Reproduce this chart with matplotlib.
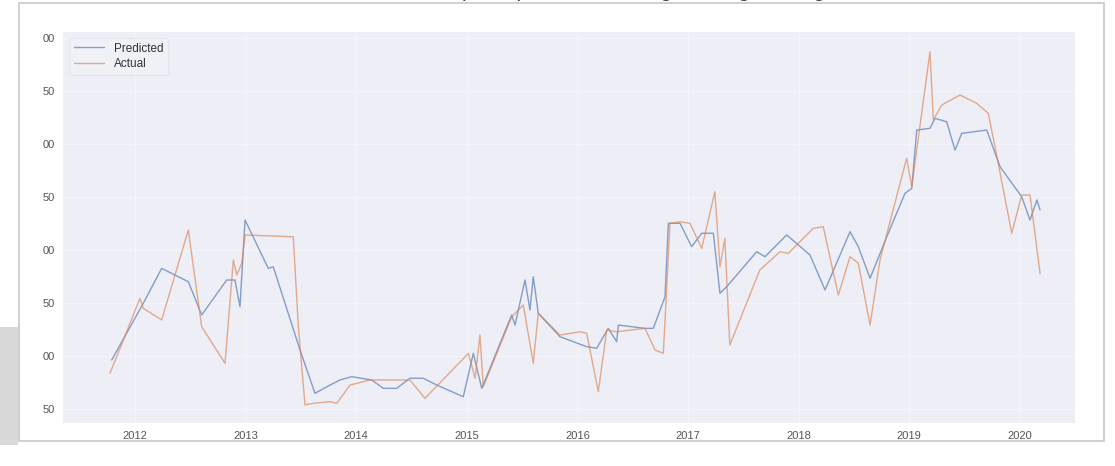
import numpy as np
import matplotlib.pyplot as plt
from matplotlib.patches import Rectangle

plt.style.use('seaborn-v0_8-darkgrid')
plt.rcParams['font.family'] = ['Liberation Sans', 'DejaVu Sans']

# predicted series (decimal year, value)
pred_t = [2011.789, 2012.075, 2012.241, 2012.482, 2012.603, 2012.829, 2012.904, 2012.949,
          2012.995, 2013.205, 2013.250, 2013.492, 2013.627, 2013.763, 2013.854, 2013.959,
          2014.140, 2014.245, 2014.366, 2014.486, 2014.606, 2014.728, 2014.968, 2015.059,
          2015.135, 2015.406, 2015.436, 2015.526, 2015.571, 2015.601, 2015.646, 2015.843,
          2016.084, 2016.174, 2016.279, 2016.355, 2016.370, 2016.611, 2016.686, 2016.792,
          2016.822, 2016.928, 2017.033, 2017.124, 2017.229, 2017.289, 2017.350, 2017.621,
          2017.696, 2017.892, 2018.103, 2018.239, 2018.465, 2018.540, 2018.646, 2018.797,
          2018.962, 2019.023, 2019.068, 2019.188, 2019.233, 2019.339, 2019.414, 2019.475,
          2019.701, 2019.821, 2020.017, 2020.092, 2020.155, 2020.183]
pred_v = [196.2, 249.7, 282.7, 270.1, 238.7, 271.7, 271.7, 246.5,
          328.3, 282.7, 284.2, 205.7, 164.8, 172.6, 177.4, 180.5,
          177.4, 169.5, 169.5, 179.0, 179.0, 172.6, 161.6, 202.5,
          169.5, 238.7, 229.2, 271.7, 243.4, 274.8, 240.3, 218.2,
          208.8, 207.3, 226.1, 213.5, 229.2, 226.1, 226.1, 255.9,
          325.2, 325.2, 303.1, 315.8, 315.8, 259.2, 265.4, 298.4,
          293.7, 314.2, 295.3, 262.3, 317.3, 303.1, 273.3, 312.5,
          353.5, 358.2, 413.2, 414.8, 424.2, 421.0, 394.3, 410.1,
          413.2, 378.6, 350.3, 328.3, 347.2, 337.7]

# actual series
act_t = [2011.774, 2012.045, 2012.075, 2012.241, 2012.482, 2012.603, 2012.814, 2012.889,
         2012.920, 2012.965, 2012.995, 2013.431, 2013.477, 2013.537, 2013.612, 2013.763,
         2013.824, 2013.944, 2014.125, 2014.486, 2014.622, 2015.014, 2015.075, 2015.119,
         2015.149, 2015.406, 2015.511, 2015.601, 2015.646, 2015.843, 2016.024, 2016.084,
         2016.189, 2016.265, 2016.355, 2016.611, 2016.702, 2016.777, 2016.837, 2016.928,
         2017.018, 2017.124, 2017.243, 2017.289, 2017.333, 2017.378, 2017.649, 2017.832,
         2017.907, 2018.133, 2018.223, 2018.359, 2018.465, 2018.540, 2018.646, 2018.736,
         2018.977, 2019.023, 2019.188, 2019.218, 2019.294, 2019.459, 2019.610, 2019.715,
         2019.805, 2019.927, 2020.017, 2020.092, 2020.183]
act_v = [183.7, 254.4, 245.0, 234.0, 318.9, 227.6, 193.1, 290.6,
         276.4, 287.5, 314.2, 312.5, 227.6, 153.8, 155.4, 156.9,
         155.4, 172.6, 177.4, 177.4, 160.1, 202.5, 179.0, 219.8,
         171.0, 237.1, 248.1, 193.1, 240.3, 219.8, 222.9, 221.4,
         166.3, 224.5, 222.9, 226.1, 205.7, 202.5, 325.2, 326.7,
         325.2, 301.6, 355.0, 284.2, 311.0, 210.4, 281.1, 298.4,
         296.9, 320.5, 322.0, 257.5, 293.7, 287.5, 229.2, 290.6,
         386.5, 359.7, 487.1, 422.6, 436.8, 446.2, 438.4, 429.0,
         381.8, 315.8, 351.9, 351.9, 278.0]

years = [2012, 2013, 2014, 2015, 2016, 2017, 2018, 2019, 2020]
yticks = [150, 200, 250, 300, 350, 400, 450, 500]
ytick_labels = ['50', '00', '50', '00', '50', '00', '50', '00']

W, H = 1115, 466
fig = plt.figure(figsize=(W / 100, H / 100), dpi=100, facecolor='white')

# screenshot frame + shadow (behind the axes)
fig.patches.append(Rectangle((0, 1 - 445 / H), 18 / W, 118 / H, transform=fig.transFigure,
                             facecolor='#d8d8d8', edgecolor='none', zorder=-2))
fig.patches.append(Rectangle((19 / W, 1 - 441 / H), (1104 - 19) / W, (441 - 3) / H,
                             transform=fig.transFigure, facecolor='white',
                             edgecolor='#c8c8c8', lw=1.2, zorder=-1))

ax = fig.add_axes([63 / W, 1 - 423 / H, (1075 - 63) / W, (423 - 32) / H])
ax.set_zorder(2)
ax.set_facecolor('#EDEEF6')
ax.grid(True, color='#F4F5FA', lw=0.9)
for s in ax.spines.values():
    s.set_visible(False)

ax.plot(pred_t, pred_v, color='#4C72B0', lw=1.0, alpha=0.65, label='Predicted')
ax.plot(act_t, act_v, color='#DD8452', lw=1.0, alpha=0.65, label='Actual')

ax.set_xlim(2011.349, 2020.499)
ax.set_ylim(136.8, 505.7)
ax.set_xticks(years)
ax.set_xticklabels([str(y) for y in years])
ax.set_yticks(yticks)
ax.set_yticklabels(ytick_labels)
ax.tick_params(axis='both', labelsize=8, colors='#555555', length=0, pad=6)

leg = ax.legend(loc='upper left', fontsize=8.5, frameon=True, handlelength=2.6,
                borderpad=0.4, labelspacing=0.3)
leg.get_frame().set_facecolor('#F1F2F8')
leg.get_frame().set_edgecolor('#E4E5EC')
for t in leg.get_texts():
    t.set_color('#333333')

# title sits above the screenshot edge, only its descenders show
fig.text(0.555, 1 + 4 / H, 'Stock price prediction using Moving Average', ha='center',
         va='baseline', fontsize=16, color='#444444')

fig.savefig('out.png', dpi=100, facecolor='white')
